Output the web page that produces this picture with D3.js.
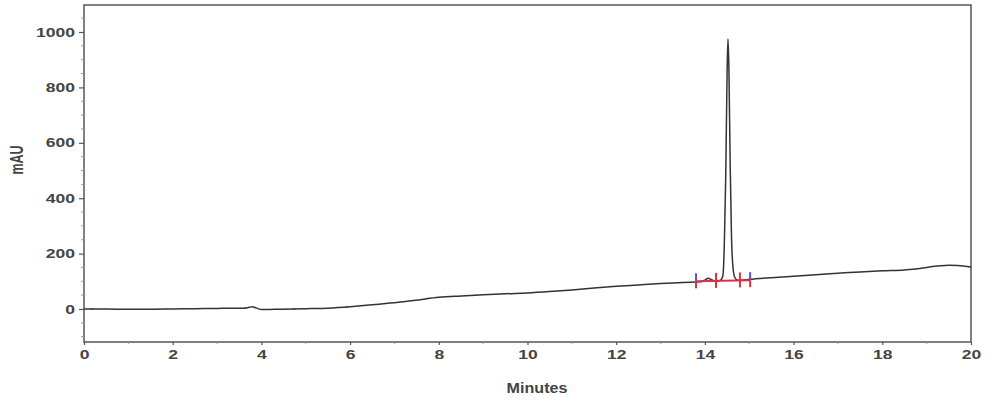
<!DOCTYPE html>
<html><head><meta charset="utf-8">
<script src="https://cdn.jsdelivr.net/npm/d3@7"></script>
<style>body{margin:0;background:#fff}svg{display:block}</style>
</head><body>
<svg id="c" width="1000" height="406"></svg>
<script>
// Chromatogram data (minutes, mAU)
const times = [0,0.5,1,1.5,2,2.5,3,3.3,3.6,3.72,3.8,3.88,4.0,4.3,4.7,5,5.5,6,6.5,6.8,7,7.5,8,8.5,9,9.5,10,10.5,11,11.5,12,12.5,13,13.5,13.9,14.0,14.07,14.15,14.25,14.32,14.37,14.41,14.44,14.47,14.50,14.52,14.54,14.57,14.60,14.64,14.68,14.74,14.8,15,15.5,16,16.5,17,17.5,18,18.5,18.8,19,19.3,19.5,19.7,20];
const mAU   = [0,0,-1,-1,0,1,2,3,3,6,8,4,-2,-1,0,1,3,8,15,20,23,32,42,47,51,55,58,63,69,76,82,87,92,96,98,104,111,106,100,102,106,125,250,480,850,975,880,520,260,140,112,104,104,107,113,118,124,129,134,138,141,145,150,156,158,157,152];
const xTicks = [0,2,4,6,8,10,12,14,16,18,20];
const yTicks = [0,200,400,600,800,1000];
// integration baseline and event markers
const baseStart = [13.80, 100], baseEnd = [15.02, 104];
const markerTimes = [13.80,14.25,14.79,15.02];
const markerKinds = ["blue","red","red","blue"];
const eventTimes = [0.15,4.7,5.9];

const svg = d3.select("#c");
const L=84,R=971,T=5,B=342;
const x = d3.scaleLinear().domain([0,20]).range([L,R]);
const y = d3.scaleLinear().domain([0,1000]).range([309,32]);

const axisCol="#555";
const FF="Arial, Liberation Sans, sans-serif";
// frame
svg.append("rect").attr("x",L).attr("y",T).attr("width",R-L).attr("height",B-T)
  .attr("fill","none").attr("stroke",axisCol).attr("stroke-width",1.5);

// y axis
const ya = svg.append("g").attr("transform",`translate(${L},0)`)
  .call(d3.axisLeft(y).tickValues(yTicks).tickSize(5).tickFormat(d3.format("d")));
ya.select(".domain").remove();
ya.selectAll("line").attr("stroke",axisCol).attr("stroke-width",1.2);
ya.selectAll("text").attr("fill","#444").attr("font-family",FF)
  .attr("font-weight","bold").attr("font-size",12.8)
  .attr("x",-9)
  .attr("transform",`translate(-9,0) scale(1.37,1) translate(9,0)`);
const yMinor = d3.range(-100,1100,50).filter(v=>yTicks.indexOf(v)<0);
svg.append("g").selectAll("line").data(yMinor).join("line")
  .attr("x1",L-3).attr("x2",L).attr("y1",d=>y(d)).attr("y2",d=>y(d))
  .attr("stroke","#999").attr("stroke-width",1);

// x axis
const xa = svg.append("g").attr("transform",`translate(0,${B})`)
  .call(d3.axisBottom(x).tickValues(xTicks).tickSize(3).tickFormat(d3.format("d")));
xa.select(".domain").remove();
xa.selectAll("line").attr("stroke",axisCol).attr("stroke-width",1.2);
xa.selectAll("text").attr("fill","#444").attr("font-family",FF)
  .attr("font-weight","bold").attr("font-size",12.8).attr("dy","0.71em").attr("y",8)
  .attr("x",0).attr("transform","scale(1.37,1)");
svg.append("g").selectAll("line").data(d3.range(1,20,2)).join("line")
  .attr("x1",d=>x(d)).attr("x2",d=>x(d)).attr("y1",B).attr("y2",B+2)
  .attr("stroke","#999");

// axis titles
svg.append("text").attr("transform",`translate(23,160) scale(1.4,1) rotate(-90)`)
  .attr("text-anchor","middle").attr("fill","#444").attr("font-family",FF)
  .attr("font-weight","bold").attr("font-size",12.5).text("mAU");
svg.append("text").attr("transform",`translate(537,393) scale(1.15,1)`)
  .attr("text-anchor","middle").attr("fill","#444").attr("font-family",FF)
  .attr("font-weight","bold").attr("font-size",14).text("Minutes");

// event marks
svg.append("g").selectAll("line").data(eventTimes).join("line")
  .attr("x1",d=>x(d)).attr("x2",d=>x(d)+3)
  .attr("y1",d=>y(mAU[d3.bisectLeft(times,d)]))
  .attr("y2",d=>y(mAU[d3.bisectLeft(times,d)]))
  .attr("stroke","#e04050").attr("stroke-width",1.2);

// trace
const pts = times.map((t,i)=>[t,mAU[i]]);
svg.append("path").datum(pts)
  .attr("d",d3.line().x(d=>x(d[0])).y(d=>y(d[1])).curve(d3.curveMonotoneX))
  .attr("fill","none").attr("stroke","#333").attr("stroke-width",1.5);

// integration baseline
svg.append("line").attr("x1",x(baseStart[0])).attr("x2",x(baseEnd[0]))
  .attr("y1",y(baseStart[1])).attr("y2",y(baseEnd[1]))
  .attr("stroke","#e03040").attr("stroke-width",2);
const bl = d3.scaleLinear().domain([baseStart[0],baseEnd[0]]).range([baseStart[1],baseEnd[1]]);
const mk = svg.append("g").selectAll("g").data(markerTimes).join("g");
mk.append("line").attr("x1",d=>x(d)).attr("x2",d=>x(d))
  .attr("y1",d=>y(bl(d))-8).attr("y2",d=>y(bl(d)))
  .attr("stroke",(d,i)=>markerKinds[i]==="blue"?"#5a50d8":"#e03040").attr("stroke-width",2);
mk.append("line").attr("x1",d=>x(d)).attr("x2",d=>x(d))
  .attr("y1",d=>y(bl(d))).attr("y2",d=>y(bl(d))+7)
  .attr("stroke","#e03040").attr("stroke-width",2);
</script>
</body></html>
